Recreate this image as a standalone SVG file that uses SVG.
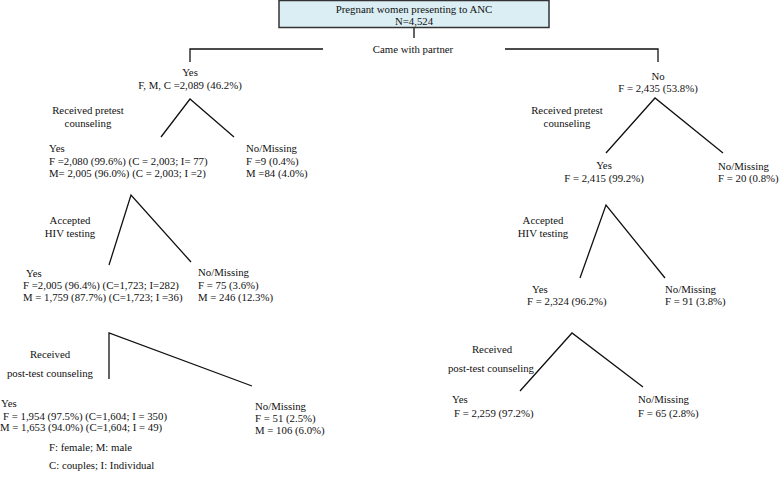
<svg xmlns="http://www.w3.org/2000/svg" width="779" height="501" viewBox="0 0 779 501">
<style>
text{font-family:"Liberation Serif","Times New Roman",serif;font-size:10.8px;fill:#111}
.c{text-anchor:middle}
.ln{stroke:#111;stroke-width:1.3;fill:none}
</style>
<rect width="779" height="501" fill="#fff"/>
<g id="connectors">
<path class="ln" d="M414,28 V38"/>
<path class="ln" d="M323,49 H190 V62"/>
<path class="ln" d="M505,49 H658 V62"/>
<path class="ln" d="M161,137 L190,99 L234,137"/>
<path class="ln" d="M109,265 L131,195 L191,262"/>
<path class="ln" d="M109,379 V333 L252,386"/>
<path class="ln" d="M606,153 L655,98 L723,153"/>
<path class="ln" d="M580,278 L606,205 L665,278"/>
<path class="ln" d="M520,391 L572,333 L643,387"/>
</g>
<g id="root">
<rect x="279" y="0.5" width="270" height="27" fill="#daeef3" stroke="#333" stroke-width="1.5"/>
<text class="c" x="414" y="13">Pregnant women presenting to ANC</text>
<text class="c" x="414" y="25">N=4,524</text>
</g>
<g id="lbl-partner"><text class="c" x="413" y="53">Came with partner</text></g>
<g id="yes-partner">
<text class="c" x="190" y="76">Yes</text>
<text class="c" x="190" y="89">F, M, C =2,089 (46.2%)</text>
</g>
<g id="no-partner">
<text class="c" x="658" y="80">No</text>
<text class="c" x="658" y="92">F = 2,435 (53.8%)</text>
</g>
<g id="lbl-pretest-left">
<text class="c" x="88" y="114">Received pretest</text>
<text class="c" x="88" y="127">counseling</text>
</g>
<g id="pretest-yes-left">
<text x="49" y="152">Yes</text>
<text x="49" y="165">F =2,080 (99.6%) (C = 2,003; I= 77)</text>
<text x="49" y="177">M= 2,005 (96.0%) (C = 2,003; I =2)</text>
</g>
<g id="pretest-no-left">
<text x="246" y="152">No/Missing</text>
<text x="246" y="165">F =9 (0.4%)</text>
<text x="246" y="177">M =84 (4.0%)</text>
</g>
<g id="lbl-hiv-left">
<text class="c" x="70" y="224">Accepted</text>
<text class="c" x="70" y="237">HIV testing</text>
</g>
<g id="hiv-yes-left">
<text x="26" y="277">Yes</text>
<text x="23" y="289">F =2,005 (96.4%) (C=1,723; I=282)</text>
<text x="23" y="301">M = 1,759 (87.7%) (C=1,723; I =36)</text>
</g>
<g id="hiv-no-left">
<text x="198" y="276">No/Missing</text>
<text x="198" y="289">F = 75 (3.6%)</text>
<text x="198" y="301">M = 246 (12.3%)</text>
</g>
<g id="lbl-post-left">
<text class="c" x="50" y="358">Received</text>
<text class="c" x="50" y="377">post-test counseling</text>
</g>
<g id="post-yes-left">
<text x="1" y="407">Yes</text>
<text x="3" y="420">F = 1,954 (97.5%) (C=1,604; I = 350)</text>
<text x="0" y="431">M = 1,653 (94.0%) (C=1,604; I = 49)</text>
</g>
<g id="post-no-left">
<text x="255" y="410">No/Missing</text>
<text x="255" y="422">F = 51 (2.5%)</text>
<text x="255" y="434">M = 106 (6.0%)</text>
</g>
<g id="lbl-pretest-right">
<text class="c" x="567" y="114">Received pretest</text>
<text class="c" x="567" y="127">counseling</text>
</g>
<g id="pretest-yes-right">
<text class="c" x="604" y="169">Yes</text>
<text class="c" x="604" y="182">F = 2,415 (99.2%)</text>
</g>
<g id="pretest-no-right">
<text x="718" y="170">No/Missing</text>
<text x="718" y="182">F = 20 (0.8%)</text>
</g>
<g id="lbl-hiv-right">
<text class="c" x="543" y="224">Accepted</text>
<text class="c" x="543" y="237">HIV testing</text>
</g>
<g id="hiv-yes-right">
<text x="532" y="293">Yes</text>
<text x="527" y="305">F = 2,324 (96.2%)</text>
</g>
<g id="hiv-no-right">
<text x="665" y="293">No/Missing</text>
<text x="665" y="305">F = 91 (3.8%)</text>
</g>
<g id="lbl-post-right">
<text class="c" x="492" y="353">Received</text>
<text class="c" x="491" y="372">post-test counseling</text>
</g>
<g id="post-yes-right">
<text x="452" y="403">Yes</text>
<text x="454" y="417">F = 2,259 (97.2%)</text>
</g>
<g id="post-no-right">
<text x="638" y="403">No/Missing</text>
<text x="638" y="417">F = 65 (2.8%)</text>
</g>
<g id="legend">
<text x="49" y="451">F: female; M: male</text>
<text x="49" y="469">C: couples; I: Individual</text>
</g>
</svg>
